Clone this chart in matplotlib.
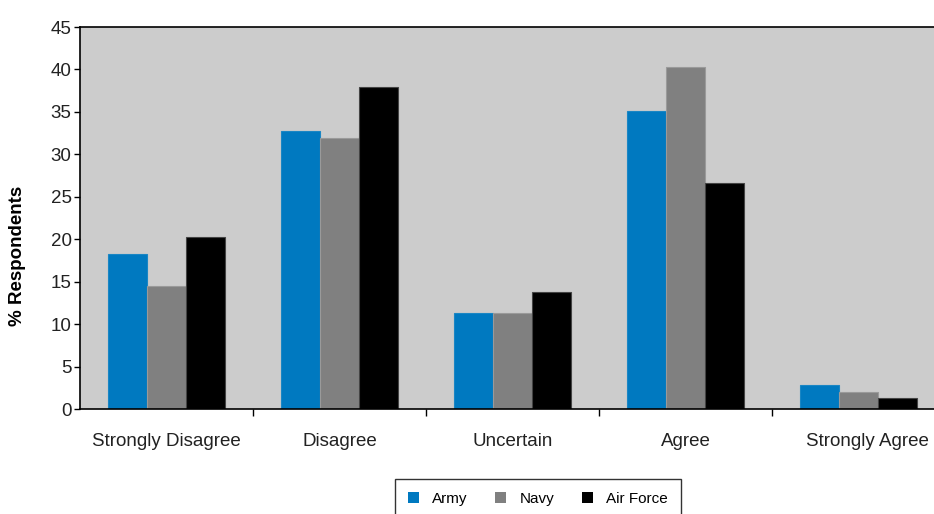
import numpy as np
import matplotlib
matplotlib.use("Agg")
import matplotlib.pyplot as plt
import matplotlib.transforms as mtransforms
from matplotlib.patches import Patch

# survey responses by service branch (% of respondents)
categories = ["Strongly Disagree", "Disagree", "Uncertain", "Agree", "Strongly Agree"]
army = [18.3, 32.7, 11.3, 35.1, 2.8]
navy = [14.5, 31.9, 11.3, 40.3, 2.0]
air_force = [20.3, 37.9, 13.8, 26.6, 1.3]
series_names = ["Army", "Navy", "Air Force"]

plt.rcParams["font.family"] = ["Liberation Sans", "DejaVu Sans"]

colors = ["#0079C0", "#808080", "#000000"]
edges = ["#1a86c4", "#9a9a9a", "#444444"]

fig = plt.figure(figsize=(9.34, 5.14), dpi=100)
# plot area runs slightly past the right edge of the figure
ax = fig.add_axes([80 / 934, 105 / 514, 865 / 934, 382 / 514])
ax.set_facecolor("#CCCCCC")

x = np.arange(len(categories))
w = 0.227
for i, vals in enumerate([army, navy, air_force]):
    ax.bar(x + (i - 1) * w, vals, width=w, color=colors[i],
           edgecolor=edges[i], linewidth=0.8, label=series_names[i], zorder=2)

ax.set_xlim(-0.5, len(categories) - 0.5)
ax.set_ylim(0, 45)
ax.set_yticks(range(0, 46, 5))
ax.tick_params(axis="y", direction="out", length=4, width=1, pad=2,
               labelsize=13.5, labelcolor="#222222")

ax.set_xticks(x)
ax.set_xticklabels(categories)
ax.tick_params(axis="x", which="major", length=0, pad=17, labelsize=13.5,
               labelcolor="#222222")
ax.set_xticks(x[:-1] + 0.5, minor=True)
ax.tick_params(axis="x", which="minor", direction="out", length=5, width=1)

# keep the last category label inside the figure
last = ax.get_xticklabels()[-1]
last.set_transform(last.get_transform() +
                   mtransforms.ScaledTranslation(9 / 100, 0, fig.dpi_scale_trans))

for side in ["left", "bottom", "top"]:
    ax.spines[side].set_color("black")
    ax.spines[side].set_linewidth(1.2)
ax.spines["right"].set_visible(False)

ax.set_ylabel("% Respondents", fontsize=13.5, fontweight="bold")
ax.yaxis.set_label_coords(-0.062, 0.40)

handles = [Patch(facecolor=c, edgecolor="none") for c in colors]
leg = fig.legend(handles, series_names, loc="upper center",
                 bbox_to_anchor=(538 / 934, 1 - 479 / 514), ncol=3,
                 fontsize=11, frameon=True, fancybox=False,
                 handlelength=0.7, handleheight=0.7, handletextpad=0.9,
                 columnspacing=1.8, borderpad=0.85, borderaxespad=0)
leg.get_frame().set_edgecolor("black")
leg.get_frame().set_linewidth(1.0)

fig.savefig("out.png", dpi=100)
